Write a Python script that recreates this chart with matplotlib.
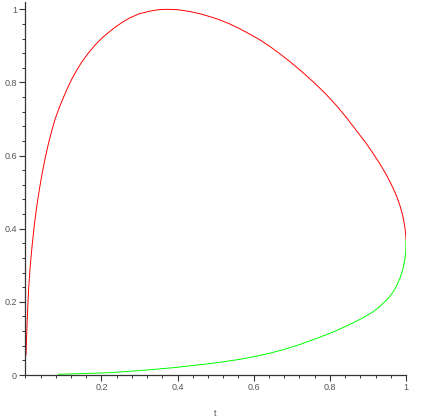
import matplotlib
matplotlib.use("Agg")
import matplotlib.pyplot as plt
from matplotlib.ticker import MultipleLocator

# --- data (upper branch red, lower branch green) ---
t_upper = [0.002, 0.003, 0.005, 0.007, 0.009, 0.012, 0.015, 0.018, 0.024,
           0.030, 0.037, 0.044, 0.052, 0.061, 0.070, 0.079, 0.090, 0.101,
           0.112, 0.123, 0.136, 0.149, 0.166, 0.184, 0.201, 0.219, 0.236,
           0.254, 0.275, 0.300, 0.327, 0.350, 0.372, 0.400, 0.432, 0.458,
           0.485, 0.511, 0.537, 0.563, 0.590, 0.617, 0.643, 0.669, 0.695,
           0.726, 0.756, 0.787, 0.818, 0.845, 0.870, 0.893, 0.913, 0.931,
           0.947, 0.961, 0.973, 0.983, 0.991, 0.996, 0.999, 1.0]
y_upper = [0.055, 0.090, 0.150, 0.198, 0.240, 0.285, 0.322, 0.355, 0.412,
           0.460, 0.508, 0.550, 0.592, 0.634, 0.670, 0.702, 0.733, 0.761,
           0.787, 0.811, 0.835, 0.857, 0.881, 0.903, 0.921, 0.937, 0.951,
           0.964, 0.977, 0.988, 0.995, 0.999, 1.000, 0.999, 0.994, 0.988,
           0.980, 0.971, 0.960, 0.947, 0.932, 0.916, 0.898, 0.878, 0.857,
           0.830, 0.802, 0.771, 0.736, 0.702, 0.668, 0.637, 0.607, 0.578,
           0.550, 0.522, 0.495, 0.467, 0.438, 0.411, 0.388, 0.369]

t_lower = [0.087, 0.150, 0.214, 0.258, 0.301, 0.345, 0.389, 0.432, 0.476,
           0.520, 0.564, 0.600, 0.640, 0.680, 0.720, 0.760, 0.800, 0.827,
           0.860, 0.888, 0.912, 0.932, 0.951, 0.965, 0.976, 0.985, 0.992,
           0.997, 0.9995, 1.0]
y_lower = [0.002, 0.004, 0.006, 0.009, 0.012, 0.016, 0.020, 0.025, 0.030,
           0.036, 0.043, 0.050, 0.059, 0.070, 0.083, 0.098, 0.114, 0.126,
           0.142, 0.157, 0.172, 0.188, 0.207, 0.225, 0.245, 0.267, 0.290,
           0.316, 0.340, 0.369]

x_ticks = [0.2, 0.4, 0.6, 0.8, 1]
y_ticks = [0, 0.2, 0.4, 0.6, 0.8, 1]

plt.rcParams['font.family'] = ['Liberation Sans', 'DejaVu Sans']

fig = plt.figure(figsize=(4.38, 4.19), dpi=100)
ax = fig.add_axes([25.3 / 438, 44 / 419, 380.7 / 438, 373 / 419])

ax.plot(t_upper, y_upper, color='#ff0000', lw=0.7)
ax.plot(t_lower, y_lower, color='#00ff00', lw=0.7)

ax.set_xlim(0, 1)
ax.set_ylim(0, 1.02)

# maple style axes: only the two crossing at the origin
for side in ['top', 'right']:
    ax.spines[side].set_visible(False)
for side in ['left', 'bottom']:
    ax.spines[side].set_color('#333333')
    ax.spines[side].set_linewidth(0.9)

ax.set_xticks(x_ticks)
ax.set_xticklabels(['0.2', '0.4', '0.6', '0.8', '1'])
ax.set_yticks(y_ticks)
ax.set_yticklabels(['0', '0.2', '0.4', '0.6', '0.8', '1'])
ax.xaxis.set_minor_locator(MultipleLocator(0.04))
ax.yaxis.set_minor_locator(MultipleLocator(0.04))
ax.tick_params(which='major', length=4, width=0.8, color='#333333',
               labelsize=6.5, labelcolor='#555555', pad=2)
ax.tick_params(which='minor', length=2.5, width=0.7, color='#333333')

ax.set_xlabel('t', fontsize=6.5, color='#555555', labelpad=12)

fig.savefig('out.png', dpi=100)
